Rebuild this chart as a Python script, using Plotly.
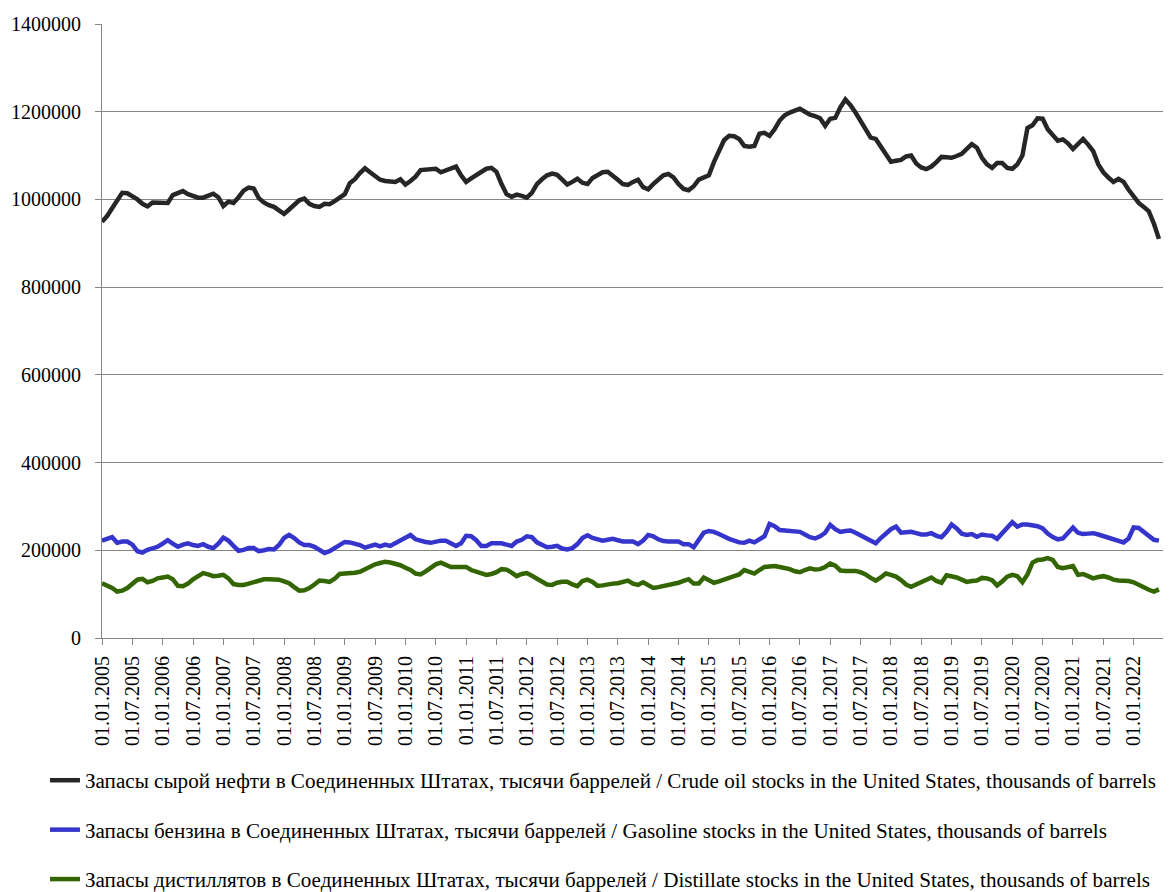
import pandas as pd
import plotly.graph_objects as go

# Monthly dates, 01.01.2005 .. 01.06.2022
dates = pd.date_range("2005-01-01", periods=210, freq="MS").strftime("%d.%m.%Y").tolist()

# Values in thousands of barrels
crude_k = [
    949, 962, 980, 1000, 1015, 1014, 1008, 1000, 990, 984, 993, 992,
    991, 992, 1010, 1015, 1019, 1012, 1008, 1004, 1004, 1008, 1013, 1005,
    985, 995, 992, 1005, 1020, 1027, 1025, 1003, 993, 987, 983, 975,
    967, 977, 986, 998, 1002, 990, 985, 983, 990, 989, 996, 1005,
    1012, 1037, 1046, 1060, 1071, 1062, 1053, 1045, 1042, 1041, 1040, 1046,
    1034, 1042, 1052, 1067, 1068, 1069, 1070, 1062, 1066, 1072, 1075, 1055,
    1040, 1048, 1056, 1065, 1070, 1072, 1063, 1035, 1012, 1006, 1011, 1008,
    1004, 1015, 1035, 1046, 1055, 1059, 1056, 1045, 1034, 1040, 1047, 1038,
    1035, 1049, 1055, 1062, 1063, 1055, 1045, 1035, 1033, 1040, 1045, 1028,
    1023, 1035, 1045, 1055, 1058, 1050, 1035, 1024, 1021, 1030, 1045, 1050,
    1055, 1085, 1113, 1135, 1145, 1144, 1138, 1122, 1120, 1122, 1150, 1152,
    1145, 1160, 1180, 1192, 1198, 1203, 1207, 1200, 1193, 1190, 1185, 1168,
    1184, 1186, 1210, 1228, 1215, 1198, 1180, 1160, 1141, 1138, 1120, 1105,
    1086, 1088, 1090, 1098, 1100, 1082, 1073, 1069, 1075, 1085, 1097, 1096,
    1095, 1099, 1104, 1115, 1126, 1118, 1095, 1080, 1072, 1083, 1083, 1072,
    1070, 1080, 1100, 1163, 1169, 1185, 1184, 1160, 1145, 1134, 1137, 1128,
    1115, 1128, 1138, 1125, 1110, 1080, 1062, 1050, 1040, 1047, 1040, 1022,
    1008, 992, 983, 973, 945, 910,
]
gasoline_k = [
    222, 226, 230, 217, 220, 220, 213, 198, 195, 201, 205, 208,
    215, 223, 215, 208, 213, 216, 212, 210, 214, 208, 205, 215,
    229, 222, 210, 199, 201, 205, 205, 198, 200, 203, 202, 212,
    228, 235, 228, 218, 212, 212, 208, 200, 194, 198, 205, 212,
    219, 218, 216, 212, 206, 210, 213, 209, 213, 210, 216, 222,
    230, 235, 225, 221, 219, 217, 220, 222, 222, 215, 210, 216,
    233, 232, 223, 210, 210, 216, 216, 216, 213, 210, 220, 224,
    232, 230, 218, 212, 207, 208, 210, 204, 202, 205, 214, 228,
    234, 228, 225, 222, 224, 226, 223, 220, 220, 220, 214, 222,
    235, 232, 225, 221, 220, 220, 220, 214, 214, 207, 225, 240,
    244, 242, 237, 231, 226, 222, 218, 217, 222, 218, 224, 232,
    260, 255, 246, 245, 245, 244, 242, 236, 230, 227, 232, 240,
    258, 248, 242, 244, 245, 240, 234, 227, 222, 216, 228, 239,
    248, 254, 240, 241, 242, 239, 236, 236, 239, 233, 230, 242,
    259, 250, 238, 235, 237, 231, 236, 234, 233, 226, 240, 252,
    264, 254, 259, 259, 258, 255, 250, 238, 230, 225, 227, 240,
    252, 240, 237, 238, 239, 236, 232, 228, 226, 222, 218, 227,
    252, 251, 242, 235, 224, 222,
]
distillate_k = [
    125, 120, 114, 106, 108, 114, 123, 133, 135, 127, 130, 136,
    138, 140, 134, 119, 118, 124, 134, 140, 148, 145, 141, 142,
    144, 136, 123, 121, 121, 124, 127, 132, 134, 134, 134, 133,
    129, 125, 116, 108, 109, 114, 122, 131, 130, 128, 135, 146,
    147, 147, 149, 151, 157, 163, 168, 171, 174, 172, 170, 166,
    160, 155, 147, 145, 152, 160, 168, 172, 166, 162, 162, 162,
    162, 155, 151, 147, 144, 146, 150, 157, 156, 149, 141, 146,
    148, 142, 135, 127, 122, 121, 126, 128, 128, 122, 118, 130,
    133, 128, 119, 120, 123, 124, 125, 128, 131, 124, 121, 127,
    120, 114, 116, 118, 120, 123, 126, 130, 134, 124, 124, 138,
    132, 126, 129, 132, 137, 141, 145, 155, 151, 147, 155, 162,
    163, 164, 162, 160, 157, 152, 150, 155, 159, 156, 157, 162,
    170, 165, 154, 153, 153, 153, 150, 145, 137, 131, 138, 147,
    144, 140, 132, 122, 117, 122, 127, 132, 138, 130, 126, 143,
    141, 138, 133, 128, 130, 131, 137, 136, 132, 120, 129, 140,
    144, 141, 127, 145, 172, 178, 179, 182, 178, 162, 159, 161,
    164, 144, 146, 141, 136, 139, 141, 138, 133, 131, 131, 130,
    127, 121, 117, 110, 106, 111,
]

crude = [v * 1000 for v in crude_k]
gasoline = [v * 1000 for v in gasoline_k]
distillate = [v * 1000 for v in distillate_k]

names = [
    "Запасы сырой нефти в Соединенных Штатах, тысячи баррелей / Crude oil stocks in the United States, thousands of barrels",
    "Запасы бензина в Соединенных Штатах, тысячи баррелей / Gasoline stocks in the United States, thousands of barrels",
    "Запасы дистиллятов в Соединенных Штатах, тысячи баррелей / Distillate stocks in the United States, thousands of barrels",
]
colors = ["#262626", "#3535CC", "#336600"]

x = list(range(len(dates)))
tickvals = list(range(0, len(dates) + 1, 6))
ticktext = [dates[i] if i < len(dates) else "" for i in tickvals]

fig = go.Figure()
for i, (series, name, color) in enumerate(zip([crude, gasoline, distillate], names, colors)):
    fig.add_trace(go.Scatter(
        x=x, y=series, mode="lines", name=name,
        line=dict(color=color, width=4.5),
        legendgroup=f"g{i}",
        customdata=dates,
        hovertemplate="%{customdata}: %{y}<extra></extra>",
    ))

font_family = "Liberation Serif"
fig.update_layout(
    width=1163, height=900,
    margin=dict(l=94, r=7, t=16, b=270, autoexpand=False),
    paper_bgcolor="white", plot_bgcolor="white",
    font=dict(family=font_family, size=20, color="black"),
    showlegend=True,
    legend=dict(
        orientation="v", x=-0.0537, xanchor="left", y=-0.1987, yanchor="top",
        traceorder="grouped", tracegroupgap=19,
        font=dict(family=font_family, size=21.1, color="black"),
        bgcolor="rgba(0,0,0,0)", borderwidth=0,
    ),
)
fig.update_xaxes(
    range=[0, len(dates)],
    tickmode="array", tickvals=tickvals, ticktext=ticktext,
    tickangle=-90, ticks="outside", ticklen=6, tickcolor="#868686", tickwidth=1,
    showline=True, linecolor="#868686", linewidth=1,
    showgrid=False, zeroline=False,
    ticklabelstandoff=3,
    tickfont=dict(family=font_family, size=20, color="black"),
)
fig.update_yaxes(
    range=[0, 1400000], dtick=200000, tick0=0, tickformat="d",
    ticks="outside", ticklen=6, tickcolor="#868686", tickwidth=1,
    showline=True, linecolor="#868686", linewidth=1,
    showgrid=True, gridcolor="#868686", gridwidth=1,
    zeroline=False,
    ticklabelstandoff=10,
    tickfont=dict(family=font_family, size=20, color="black"),
)

fig.write_html("out.html")
